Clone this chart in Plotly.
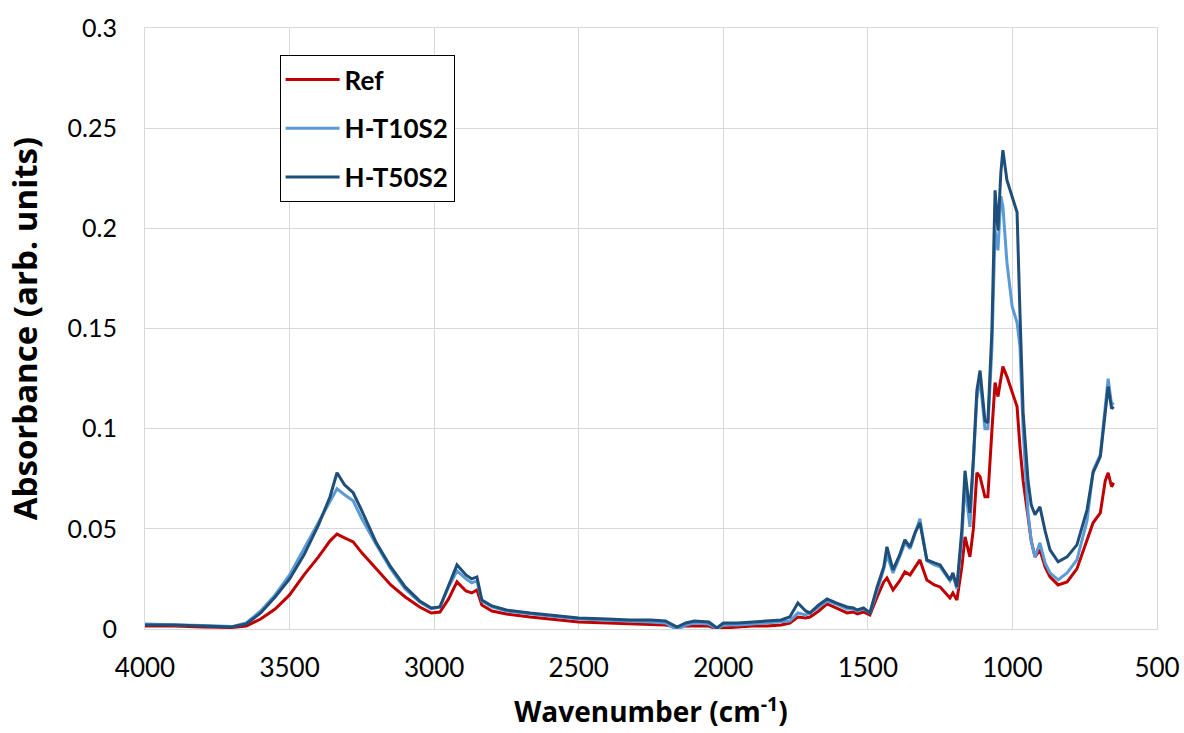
import plotly.graph_objects as go

wavenumber = [4000, 3900, 3800, 3700, 3650, 3600, 3550, 3500, 3450, 3400, 3360, 3336, 3310, 3280,
              3250, 3200, 3150, 3100, 3050, 3010, 2980, 2950, 2921, 2890, 2870, 2852, 2835, 2800,
              2750, 2668, 2600, 2500, 2400, 2323, 2250, 2200, 2160, 2130, 2100, 2050, 2022, 2000,
              1950, 1900, 1850, 1800, 1770, 1742, 1715, 1700, 1670, 1641, 1610, 1572, 1550, 1537,
              1515, 1493, 1468, 1445, 1434, 1413, 1390, 1372, 1354, 1337, 1320, 1296, 1270, 1250,
              1216, 1206, 1192, 1175, 1164, 1147, 1135, 1123, 1112, 1095, 1085, 1071, 1060, 1050,
              1040, 1033, 1019, 1001, 984, 974, 963, 946, 935, 922, 905, 887, 870, 842, 811, 777,
              742, 721, 696, 679, 669, 657, 650]

ref = [0.0015, 0.0015, 0.001, 0.0008, 0.0015, 0.005, 0.010, 0.017, 0.027, 0.036, 0.044, 0.0474, 0.0455, 0.0435,
       0.038, 0.030, 0.022, 0.016, 0.011, 0.008, 0.0085, 0.015, 0.0235, 0.019, 0.018, 0.0195, 0.012, 0.009,
       0.0075, 0.006, 0.005, 0.0035, 0.003, 0.0025, 0.002, 0.002, 0.001, 0.0015, 0.0015, 0.0015, 0.0, 0.0005,
       0.001, 0.0015, 0.0015, 0.002, 0.003, 0.006, 0.0055, 0.006, 0.009, 0.0125, 0.0105, 0.008, 0.0085, 0.0075,
       0.0085, 0.007, 0.016, 0.0235, 0.0255, 0.0195, 0.024, 0.0285, 0.027, 0.031, 0.0345, 0.0245, 0.022, 0.021,
       0.0155, 0.018, 0.0145, 0.031, 0.046, 0.036, 0.050, 0.078, 0.076, 0.066, 0.066, 0.099, 0.123, 0.116,
       0.124, 0.131, 0.126, 0.118, 0.111, 0.091, 0.074, 0.056, 0.044, 0.036, 0.0395, 0.031, 0.026, 0.022, 0.0235, 0.030,
       0.0445, 0.053, 0.058, 0.074, 0.078, 0.071, 0.073]

h_t10s2 = [0.0025, 0.0022, 0.0018, 0.0012, 0.003, 0.009, 0.017, 0.027, 0.040, 0.053, 0.064, 0.070, 0.067, 0.064,
           0.055, 0.042, 0.030, 0.020, 0.0135, 0.010, 0.011, 0.021, 0.029, 0.025, 0.023, 0.024, 0.014, 0.011,
           0.009, 0.0075, 0.0065, 0.005, 0.0045, 0.004, 0.0035, 0.003, -0.0005, 0.002, 0.003, 0.0025, 0.0, 0.002,
           0.002, 0.0025, 0.003, 0.0035, 0.004, 0.008, 0.007, 0.008, 0.011, 0.014, 0.0125, 0.010, 0.010, 0.009,
           0.010, 0.008, 0.019, 0.030, 0.037, 0.028, 0.036, 0.043, 0.040, 0.047, 0.055, 0.034, 0.032, 0.031,
           0.024, 0.027, 0.020, 0.045, 0.072, 0.051, 0.080, 0.115, 0.125, 0.100, 0.100, 0.140, 0.199, 0.189,
           0.216, 0.211, 0.183, 0.161, 0.153, 0.141, 0.099, 0.058, 0.044, 0.036, 0.043, 0.033, 0.028, 0.0245, 0.028, 0.0345,
           0.054, 0.079, 0.087, 0.110, 0.125, 0.112, 0.113]

h_t50s2 = [0.002, 0.002, 0.0015, 0.001, 0.0025, 0.008, 0.016, 0.025, 0.037, 0.052, 0.066, 0.078, 0.072, 0.068,
           0.059, 0.043, 0.031, 0.021, 0.014, 0.0105, 0.011, 0.022, 0.032, 0.027, 0.025, 0.026, 0.0145, 0.0115,
           0.0095, 0.008, 0.007, 0.0055, 0.005, 0.0045, 0.0045, 0.004, 0.001, 0.003, 0.004, 0.0035, 0.0005, 0.003,
           0.003, 0.0035, 0.004, 0.0045, 0.006, 0.013, 0.009, 0.008, 0.012, 0.015, 0.013, 0.011, 0.0105, 0.0095,
           0.0105, 0.008, 0.021, 0.031, 0.041, 0.0295, 0.037, 0.0445, 0.041, 0.048, 0.053, 0.0345, 0.033, 0.032,
           0.0245, 0.028, 0.021, 0.0495, 0.079, 0.058, 0.085, 0.119, 0.129, 0.104, 0.103, 0.149, 0.219, 0.199,
           0.228, 0.239, 0.224, 0.216, 0.208, 0.158, 0.108, 0.074, 0.062, 0.057, 0.061, 0.049, 0.0395, 0.0335, 0.036, 0.042,
           0.0595, 0.078, 0.086, 0.108, 0.121, 0.110, 0.111]

series_names = ["Ref", "H-T10S2", "H-T50S2"]
series_colors = ["#C00000", "#5B9BD5", "#1F4E79"]

x_ticks = [4000, 3500, 3000, 2500, 2000, 1500, 1000, 500]
y_ticks = [0, 0.05, 0.1, 0.15, 0.2, 0.25, 0.3]

FONT = "Lato, 'Open Sans', sans-serif"
TITLE_FONT = "'Open Sans', Lato, sans-serif"

fig = go.Figure()
for name, vals, col in zip(series_names, [ref, h_t10s2, h_t50s2], series_colors):
    fig.add_trace(go.Scatter(x=wavenumber, y=vals, mode="lines", name=name,
                             legendgroup=name,
                             line=dict(color=col, width=3)))

grid = "#D9D9D9"
fig.update_layout(
    width=1184, height=733,
    margin=dict(l=145, r=27, t=28, b=104),
    plot_bgcolor="white", paper_bgcolor="white",
    font=dict(family=FONT, size=25, color="#000000"),
    showlegend=True,
    legend=dict(x=0.133, y=0.955, xanchor="left", yanchor="top",
                bgcolor="white", bordercolor="#000000", borderwidth=1,
                font=dict(family=FONT, size=26, color="#000000", weight="bold"),
                itemwidth=54,
                tracegroupgap=12, traceorder="grouped"),
    xaxis=dict(range=[4000, 500], tickvals=x_ticks, ticktext=[str(v) for v in x_ticks],
               automargin=False,
               showgrid=True, gridcolor=grid, gridwidth=1,
               showline=True, linecolor=grid, linewidth=1, mirror=True,
               ticks="outside", ticklen=16, tickcolor="rgba(0,0,0,0)",
               zeroline=False,
               tickfont=dict(size=26),
               title=dict(text="Wavenumber (cm<sup>-1</sup>)", standoff=20,
                          font=dict(family=TITLE_FONT, size=28, weight="bold"))),
    yaxis=dict(range=[0, 0.3], tickvals=y_ticks,
               ticktext=["0", "0.05", "0.1", "0.15", "0.2", "0.25", "0.3"],
               automargin=False,
               showgrid=True, gridcolor=grid, gridwidth=1,
               showline=True, linecolor=grid, linewidth=1, mirror=True,
               ticks="outside", ticklen=22, tickcolor="rgba(0,0,0,0)",
               zeroline=False,
               tickfont=dict(size=25),
               title=dict(text="Absorbance (arb. units)", standoff=20,
                          font=dict(family=TITLE_FONT, size=33, weight="bold"))),
)

fig.write_html("out.html")
